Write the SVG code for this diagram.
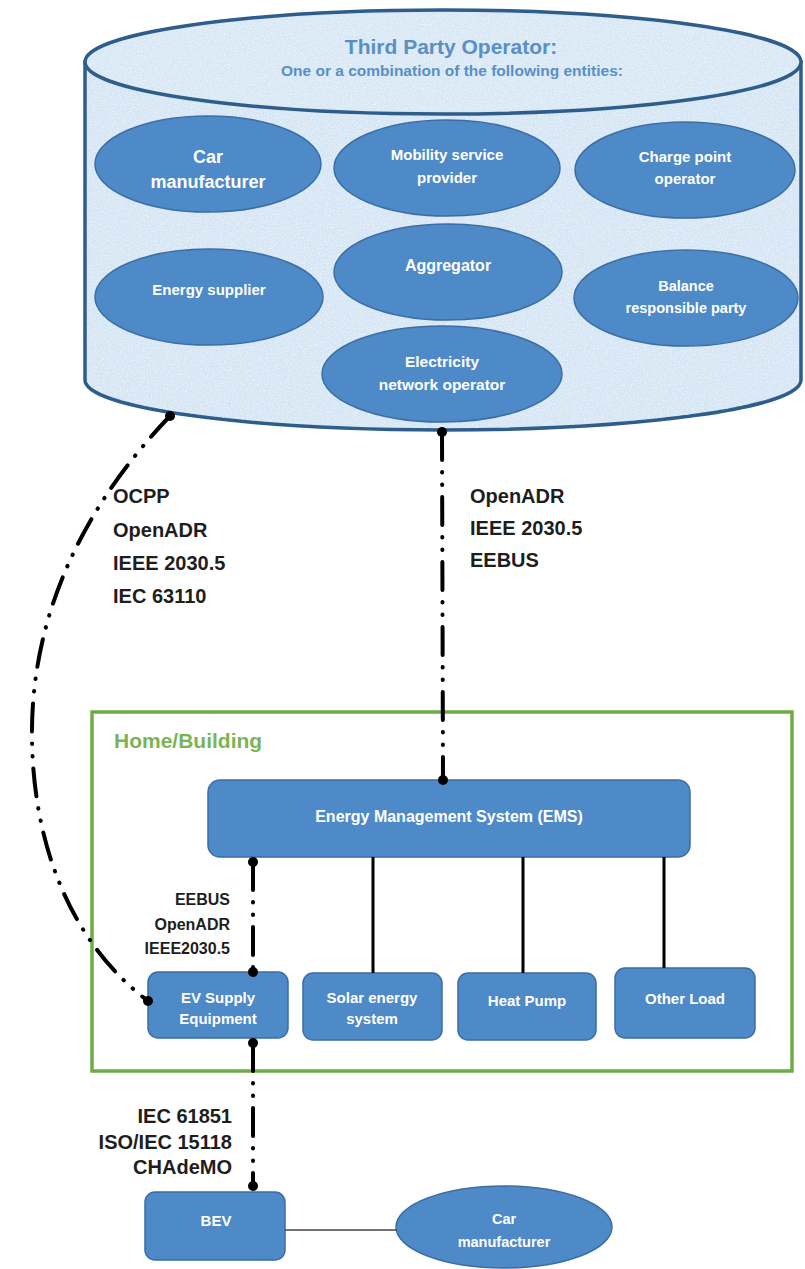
<svg xmlns="http://www.w3.org/2000/svg" width="805" height="1269" viewBox="0 0 805 1269">
<defs>
<style>
text{font-family:"Liberation Sans",Arial,sans-serif;font-weight:bold}
.node{fill:#4e8ac8;stroke:#3a6ea5;stroke-width:1.5}
.nt{fill:#ffffff;text-anchor:middle}
.lbl{fill:#1e1e1e;font-size:20px}
.lbl2{fill:#1e1e1e;font-size:16px;text-anchor:end}
.dd{fill:none;stroke:#000;stroke-width:4;stroke-linecap:round;stroke-dasharray:28 12 0.5 12 0.5 12}
.solid{fill:none;stroke:#000;stroke-width:3}
.end{fill:#000}
</style>
<filter id="speck" x="0" y="0" width="100%" height="100%">
<feTurbulence type="fractalNoise" baseFrequency="0.7" numOctaves="2" seed="5" result="n"/>
<feColorMatrix in="n" type="matrix" values="0 0 0 0 1  0 0 0 0 1  0 0 0 0 1  3 0 0 0 -1.45" result="w"/>
<feComposite in="w" in2="SourceGraphic" operator="in"/>
</filter>
</defs>
<rect width="805" height="1269" fill="#ffffff"/>

<g id="third-party-operator">
<path d="M85,62 L85,380 A358,50 0 0 0 801,380 L801,62 Z" fill="#d6e6f4" stroke="#2e5d8c" stroke-width="3.5"/>
<path d="M87,62 L87,380 A356,48 0 0 0 799,380 L799,62 Z" fill="#000" filter="url(#speck)" opacity="0.6"/>
<ellipse cx="443" cy="62" rx="358" ry="52" fill="#d9e8f5" stroke="#2e5d8c" stroke-width="3.5"/>
<ellipse cx="443" cy="62" rx="355" ry="49" fill="#000" filter="url(#speck)" opacity="0.6"/>
<text x="451" y="54" text-anchor="middle" font-size="21" fill="#5a8fc6">Third Party Operator:</text>
<text x="452" y="76" text-anchor="middle" font-size="15.5" fill="#5a8fc6">One or a combination of the following entities:</text>
</g>

<g id="car-manufacturer-top">
<ellipse class="node" cx="208" cy="164" rx="113" ry="48"/>
<text class="nt" x="208" y="163" font-size="18">Car</text>
<text class="nt" x="208" y="188" font-size="18">manufacturer</text>
</g>
<g id="mobility-service-provider">
<ellipse class="node" cx="447" cy="168" rx="113" ry="48"/>
<text class="nt" x="447" y="160" font-size="15">Mobility service</text>
<text class="nt" x="447" y="183" font-size="15">provider</text>
</g>
<g id="charge-point-operator">
<ellipse class="node" cx="685" cy="170" rx="110" ry="48"/>
<text class="nt" x="685" y="162" font-size="15">Charge point</text>
<text class="nt" x="685" y="184" font-size="15">operator</text>
</g>
<g id="energy-supplier">
<ellipse class="node" cx="209" cy="297" rx="114" ry="48"/>
<text class="nt" x="209" y="295" font-size="15">Energy supplier</text>
</g>
<g id="aggregator">
<ellipse class="node" cx="448" cy="272" rx="114" ry="48"/>
<text class="nt" x="448" y="271" font-size="16">Aggregator</text>
</g>
<g id="balance-responsible-party">
<ellipse class="node" cx="686" cy="298" rx="112" ry="48"/>
<text class="nt" x="686" y="291" font-size="14.5">Balance</text>
<text class="nt" x="686" y="313" font-size="14.5">responsible party</text>
</g>
<g id="electricity-network-operator">
<ellipse class="node" cx="442" cy="374" rx="120" ry="48"/>
<text class="nt" x="442" y="367" font-size="15.5">Electricity</text>
<text class="nt" x="442" y="390" font-size="15.5">network operator</text>
</g>

<g id="home-building">
<rect x="92" y="712" width="700" height="359" fill="none" stroke="#6fac46" stroke-width="3.5"/>
<text x="114" y="748" font-size="21" fill="#7cb455">Home/Building</text>
</g>

<g id="ems">
<rect class="node" x="208" y="780" width="482" height="77" rx="12"/>
<text class="nt" x="449" y="822" font-size="16">Energy Management System (EMS)</text>
</g>
<g id="ev-supply-equipment">
<rect class="node" x="148" y="972" width="140" height="66" rx="10"/>
<text class="nt" x="218" y="1003" font-size="15">EV Supply</text>
<text class="nt" x="218" y="1024" font-size="15">Equipment</text>
</g>
<g id="solar-energy-system">
<rect class="node" x="303" y="973" width="139" height="67" rx="10"/>
<text class="nt" x="372" y="1003" font-size="15">Solar energy</text>
<text class="nt" x="372" y="1024" font-size="15">system</text>
</g>
<g id="heat-pump">
<rect class="node" x="458" y="973" width="138" height="67" rx="10"/>
<text class="nt" x="527" y="1006" font-size="15">Heat Pump</text>
</g>
<g id="other-load">
<rect class="node" x="615" y="968" width="140" height="70" rx="10"/>
<text class="nt" x="685" y="1004" font-size="15">Other Load</text>
</g>
<g id="bev">
<rect class="node" x="145" y="1192" width="140" height="68" rx="10"/>
<text class="nt" x="216" y="1226" font-size="15">BEV</text>
</g>
<g id="car-manufacturer-bottom">
<ellipse class="node" cx="504" cy="1227" rx="108" ry="41"/>
<text class="nt" x="504" y="1224" font-size="14.5">Car</text>
<text class="nt" x="504" y="1247" font-size="14.5">manufacturer</text>
</g>

<g id="connectors">
<path class="dd" d="M170,416 C80,510 30,620 32,740 C34,860 80,950 148,1001"/>
<circle class="end" cx="170" cy="416" r="5"/>
<circle class="end" cx="148" cy="1001" r="5"/>
<path class="dd" d="M442,432 L443,780"/>
<circle class="end" cx="442" cy="432" r="5"/>
<circle class="end" cx="443" cy="780" r="5"/>
<path class="dd" d="M253,862 L253,972"/>
<circle class="end" cx="253" cy="862" r="5"/>
<circle class="end" cx="253" cy="972" r="5"/>
<path class="dd" d="M253,1043 L253,1186"/>
<circle class="end" cx="253" cy="1043" r="5"/>
<circle class="end" cx="253" cy="1186" r="5"/>
<path class="solid" d="M373,857 V973 M523,857 V973 M664,857 V968"/>
<path d="M285,1230 H397" stroke="#444" stroke-width="1.5" fill="none"/>
</g>

<g id="labels">
<text class="lbl" x="113" y="503">OCPP</text>
<text class="lbl" x="113" y="537">OpenADR</text>
<text class="lbl" x="113" y="570">IEEE 2030.5</text>
<text class="lbl" x="113" y="603">IEC 63110</text>
<text class="lbl" x="470" y="503">OpenADR</text>
<text class="lbl" x="470" y="535">IEEE 2030.5</text>
<text class="lbl" x="470" y="567">EEBUS</text>
<text class="lbl2" x="230" y="905">EEBUS</text>
<text class="lbl2" x="230" y="930">OpenADR</text>
<text class="lbl2" x="230" y="954">IEEE2030.5</text>
<text class="lbl" x="232" y="1123" text-anchor="end">IEC 61851</text>
<text class="lbl" x="232" y="1149" text-anchor="end">ISO/IEC 15118</text>
<text class="lbl" x="232" y="1174" text-anchor="end">CHAdeMO</text>
</g>
</svg>
